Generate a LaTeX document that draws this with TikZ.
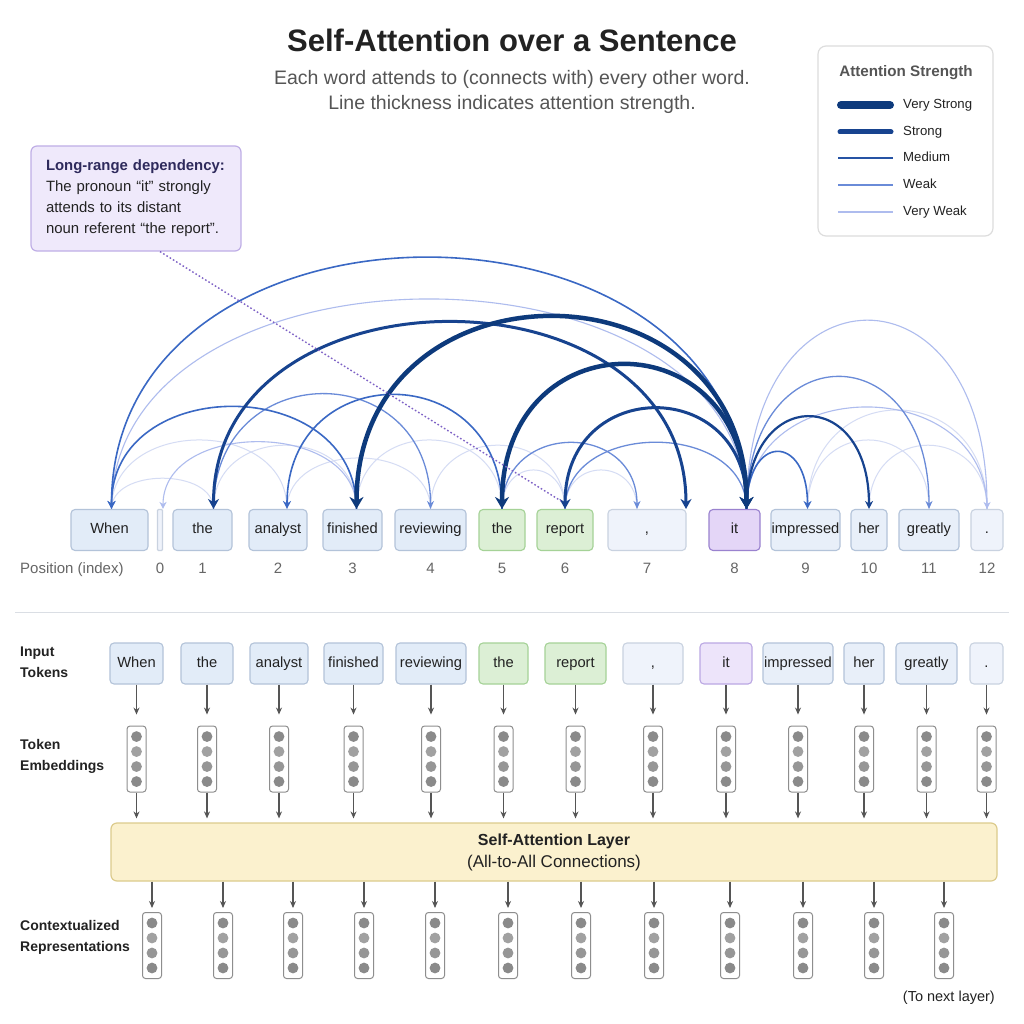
\documentclass[tikz,border=0pt]{standalone}
\usepackage{fontspec}
\setmainfont{Liberation Sans}
\usetikzlibrary{arrows.meta,positioning,calc}

\definecolor{txt}{HTML}{222222}
\definecolor{subtxt}{HTML}{555555}
\definecolor{idxtxt}{HTML}{666666}
\definecolor{blufill}{HTML}{E2ECF8}
\definecolor{bluline}{HTML}{B3C3D9}
\definecolor{litefill}{HTML}{E8EFF9}
\definecolor{palefill}{HTML}{EFF3FB}
\definecolor{paleline}{HTML}{C9D2E0}
\definecolor{grnfill}{HTML}{DCEFD5}
\definecolor{grnline}{HTML}{A5D297}
\definecolor{purfill}{HTML}{E4D6F7}
\definecolor{purline}{HTML}{9A82CF}
\definecolor{purfill2}{HTML}{EDE4FA}
\definecolor{purline2}{HTML}{BBA8E3}
\definecolor{notefill}{HTML}{EFE9FB}
\definecolor{noteline}{HTML}{BFAEE6}
\definecolor{notehead}{HTML}{2E2A5C}
\definecolor{dotline}{HTML}{7E62C6}
\definecolor{vsc}{HTML}{0D3A7C}
\definecolor{stc}{HTML}{17438F}
\definecolor{mdc}{HTML}{3A68C4}
\definecolor{wkc}{HTML}{6A8BD8}
\definecolor{vwc}{HTML}{AEBCEE}
\definecolor{ftc}{HTML}{D5DCF4}
\definecolor{layfill}{HTML}{FBF1CE}
\definecolor{layline}{HTML}{DCCB8C}
\definecolor{vecline}{HTML}{8E8E8E}
\definecolor{vecdot}{HTML}{8A8A8A}
\definecolor{flow}{HTML}{555555}
\definecolor{sepc}{HTML}{DADEE4}
\definecolor{legline}{HTML}{DDDDDD}

\begin{document}
\begin{tikzpicture}[x=1pt,y=-1pt,
    tok/.style={draw=bluline, fill=blufill, line width=1.1pt, rounded corners=4pt,
      minimum height=41pt, inner sep=0pt, text height=10pt, text depth=3pt,
      text=txt, font=\fontsize{14.7}{16}\selectfont},
    tokpale/.style={tok, draw=paleline, fill=palefill},
    toklite/.style={tok, fill=litefill},
    tokgreen/.style={tok, draw=grnline, fill=grnfill},
    tokit/.style={tok, draw=purline, fill=purfill},
    tokit2/.style={tok, draw=purline2, fill=purfill2},
    idx/.style={text=idxtxt, inner sep=0pt, text height=10pt, text depth=3pt,
      font=\fontsize{15}{16}\selectfont},
    rowlab/.style={anchor=west, align=left, inner sep=0pt, text=txt,
      font=\fontsize{14}{21}\selectfont\bfseries},
    vec/.style={draw=vecline, fill=white, line width=1pt, rounded corners=3pt,
      minimum width=19pt, minimum height=66pt, inner sep=0pt,
      path picture={
        \fill[vecdot] ([yshift=-10.5pt]path picture bounding box.north) circle (5.4pt);
        \fill[vecdot!80] ([yshift=-25.5pt]path picture bounding box.north) circle (5.4pt);
        \fill[vecdot!90] ([yshift=-40.5pt]path picture bounding box.north) circle (5.4pt);
        \fill[vecdot] ([yshift=-55.5pt]path picture bounding box.north) circle (5.4pt);
      }},
    flowarr/.style={draw=flow, line width=1.1pt, -{Stealth[length=7pt,width=6pt]}},
    faint/.style={draw=ftc, line width=1pt},
    vweak/.style={draw=vwc, line width=1.1pt, >={Stealth[length=7pt,width=7pt]}},
    weak/.style={draw=wkc, line width=1.3pt, >={Stealth[length=8pt,width=7pt]}},
    medium/.style={draw=mdc, line width=1.6pt, >={Stealth[length=8pt,width=8pt]}},
    strong/.style={draw=stc, line width=3pt, >={Stealth[length=10pt,width=11pt]}},
    vstrong/.style={draw=vsc, line width=4.5pt, >={Stealth[length=12pt,width=14pt]}},
    dotl/.style={draw=dotline, line width=1.4pt, dash pattern=on 1.6pt off 2.2pt},
    leglab/.style={anchor=west, inner sep=0pt, text=txt, text height=9.5pt, text depth=2.5pt,
      font=\fontsize{13.2}{15}\selectfont}
  ]

  \fill[white] (0,0) rectangle (1024,1024);
  \useasboundingbox (0,0) rectangle (1024,1024);

  % heading
  \node[font=\fontsize{31}{36}\selectfont\bfseries, text=txt] (title) at (512,40)
    {Self-Attention over a Sentence};
  \node[font=\fontsize{19.5}{25}\selectfont, text=subtxt, align=center] (subtitle) at (512,92)
    {Each word attends to (connects with) every other word.\\Line thickness indicates attention strength.};

  % legend
  \node[draw=legline, fill=white, line width=1.2pt, rounded corners=8pt,
    minimum width=175pt, minimum height=190pt] (legend) at (905.5,141) {};
  \node[font=\fontsize{15.2}{16}\selectfont\bfseries, text=subtxt] (legt) at (906,73) {Attention Strength};
  \draw[vsc, line width=8pt, line cap=round] (841,105) -- (890,105);
  \draw[stc, line width=5pt, line cap=round] (840,132) -- (891,132);
  \draw[mdc!55!vsc, line width=2.2pt] (838,158) -- (893,158);
  \draw[wkc, line width=1.8pt] (838,185) -- (893,185);
  \draw[vwc, line width=1.3pt] (838,212) -- (893,212);
  \node[leglab] (lvs) at (903,105) {Very Strong};
  \node[leglab] (lst) at (903,132) {Strong};
  \node[leglab] (lmd) at (903,158) {Medium};
  \node[leglab] (lwk) at (903,185) {Weak};
  \node[leglab] (lvw) at (903,212) {Very Weak};

  % note
  \node[draw=noteline, fill=notefill, line width=1.2pt, rounded corners=6pt,
    minimum width=210pt, minimum height=105pt, text width=180pt, inner xsep=15pt,
    align=left, text=txt, font=\fontsize{14.9}{21}\selectfont] (note) at (136,198.5)
    {{\bfseries\color{notehead}Long-range dependency:}\\The pronoun “it” strongly\\attends to its distant\\noun referent “the report”.};

  % sentence row
  \node[tok, minimum width=77pt] (A0) at (109.5,530) {When};
  \node[tokpale, minimum width=5pt, rounded corners=1pt] (A1) at (160,530) {};
  \node[tok, minimum width=59pt] (A2) at (202.5,530) {the};
  \node[tok, minimum width=58pt] (A3) at (278,530) {analyst};
  \node[tok, minimum width=59pt] (A4) at (352.5,530) {finished};
  \node[tok, minimum width=71pt] (A5) at (430.5,530) {reviewing};
  \node[tokgreen, minimum width=46pt] (A6) at (502,530) {the};
  \node[tokgreen, minimum width=56pt] (A7) at (565,530) {report};
  \node[tokpale, minimum width=78pt] (A8) at (647,530) {,};
  \node[tokit, minimum width=51pt] (A9) at (734.5,530) {it};
  \node[toklite, minimum width=69pt] (A10) at (805.5,530) {impressed};
  \node[toklite, minimum width=36pt] (A11) at (869,530) {her};
  \node[toklite, minimum width=60pt] (A12) at (929,530) {greatly};
  \node[tokpale, minimum width=32pt] (A13) at (987,530) {.};

  \node[idx, anchor=west] (poslab) at (20,570) {Position (index)};
  \node[idx, below=12pt of A1] (n0) {0};
  \node[idx, below=12pt of A2] (n1) {1};
  \node[idx, below=12pt of A3] (n2) {2};
  \node[idx, below=12pt of A4] (n3) {3};
  \node[idx, below=12pt of A5] (n4) {4};
  \node[idx, below=12pt of A6] (n5) {5};
  \node[idx, below=12pt of A7] (n6) {6};
  \node[idx, below=12pt of A8] (n7) {7};
  \node[idx, below=12pt of A9] (n8) {8};
  \node[idx, below=12pt of A10] (n9) {9};
  \node[idx, below=12pt of A11] (n10) {10};
  \node[idx, below=12pt of A12] (n11) {11};
  \node[idx, below=12pt of A13] (n12) {12};

  % arc ends
  \coordinate (a0) at ([xshift=2pt]A0.north);
  \coordinate (a1) at ([xshift=3pt]A1.north);
  \coordinate (a2) at ([xshift=11pt]A2.north);
  \coordinate (a3) at ([xshift=9pt]A3.north);
  \coordinate (a4) at ([xshift=4pt]A4.north);
  \coordinate (a5) at (A5.north);
  \coordinate (a6) at (A6.north);
  \coordinate (a7) at (A7.north);
  \coordinate (a8) at ([xshift=-10pt]A8.north);
  \coordinate (a8r) at ([xshift=39pt]A8.north);
  \coordinate (a9) at ([xshift=12pt]A9.north);
  \coordinate (a10) at ([xshift=2pt]A10.north);
  \coordinate (a11) at (A11.north);
  \coordinate (a12) at (A12.north);
  \coordinate (a13) at (A13.north);

  \draw[faint] (a0) .. controls +(0,-41) and +(0,-41) .. (a2);
  \draw[faint] (a0) .. controls +(0,-92) and +(0,-92) .. (a3);
  \draw[faint] (a2) .. controls +(0,-85) and +(0,-85) .. (a4);
  \draw[faint] (a3) .. controls +(0,-68) and +(0,-68) .. (a5);
  \draw[faint] (a4) .. controls +(0,-92) and +(0,-92) .. (a6);
  \draw[faint] (a5) .. controls +(0,-85) and +(0,-85) .. (a7);
  \draw[faint] (a6) .. controls +(0,-52) and +(0,-52) .. (a7);
  \draw[faint] (a7) .. controls +(0,-52) and +(0,-52) .. (a8);
  \draw[faint] (a10) .. controls +(0,-92) and +(0,-92) .. (a12);
  \draw[faint] (a11) .. controls +(0,-85) and +(0,-85) .. (a13);
  \draw[faint] (a10) .. controls +(0,-132) and +(0,-132) .. (a13);

  \draw[vweak] (a0) .. controls +(0,-280) and +(0,-280) .. (a9);
  \draw[vweak,<-] (a1) .. controls +(0,-89) and +(0,-89) .. (a4);
  \draw[vweak,->] (a9) .. controls +(0,-251) and +(0,-251) .. (a13);
  \draw[vweak] (a9) .. controls +(0,-136) and +(0,-136) .. (a13);

  \draw[weak,->] (a9) .. controls +(0,-176) and +(0,-176) .. (a12);
  \draw[weak,->] (a2) .. controls +(0,-153) and +(0,-153) .. (a5);
  \draw[weak,->] (a6) .. controls +(0,-88) and +(0,-88) .. (a8);
  \draw[weak] (a7) .. controls +(0,-89) and +(0,-89) .. (a9);

  \draw[medium,<-] (a0) .. controls +(0,-335) and +(0,-335) .. (a9);
  \draw[medium,<-] (a0) .. controls +(0,-136) and +(0,-136) .. (a4);
  \draw[medium,<-] (a3) .. controls +(0,-152) and +(0,-152) .. (a6);
  \draw[medium,->] (a9) .. controls +(0,-76) and +(0,-76) .. (a10);
  \draw[medium,->,draw=stc,line width=2.2pt] (a9) .. controls +(0,-123) and +(0,-123) .. (a11);

  \draw[strong,<->] (a2) .. controls +(0,-248) and +(0,-248) .. (a8r);
  \draw[strong,<->] (a7) .. controls +(0,-133) and +(0,-133) .. (a9);

  \draw[vstrong,<->] (a4) .. controls +(0,-255) and +(0,-255) .. (a9);
  \draw[vstrong,<->] (a6) .. controls +(0,-191) and +(0,-191) .. (a9);

  \draw[dotl] ([xshift=24pt]note.south) -- ([xshift=-4pt,yshift=8pt]a7);

  \draw[sepc, line width=1pt] (15,612) -- (1009,612);

  % lower part
  \node[rowlab] (lin) at (20,662) {Input\\Tokens};
  \node[rowlab] (lemb) at (20,756) {Token\\Embeddings};
  \node[rowlab] (lctx) at (20,937) {Contextualized\\Representations};

  \node[tok, minimum width=53pt] (B0) at (136.5,663.5) {When};
  \node[tok, minimum width=52pt] (B1) at (207,663.5) {the};
  \node[tok, minimum width=58pt] (B2) at (279,663.5) {analyst};
  \node[tok, minimum width=59pt] (B3) at (353.5,663.5) {finished};
  \node[tok, minimum width=70pt] (B4) at (431,663.5) {reviewing};
  \node[tokgreen, minimum width=49pt] (B5) at (503.5,663.5) {the};
  \node[tokgreen, minimum width=61pt] (B6) at (575.5,663.5) {report};
  \node[tokpale, minimum width=60pt] (B7) at (653,663.5) {,};
  \node[tokit2, minimum width=52pt] (B8) at (726,663.5) {it};
  \node[toklite, minimum width=70pt] (B9) at (798,663.5) {impressed};
  \node[toklite, minimum width=40pt] (B10) at (864,663.5) {her};
  \node[toklite, minimum width=61pt] (B11) at (926.5,663.5) {greatly};
  \node[tokpale, minimum width=33pt] (B12) at (986.5,663.5) {.};

  \node[vec, below=41pt of B0] (E0) {};
  \node[vec, below=41pt of B1] (E1) {};
  \node[vec, below=41pt of B2] (E2) {};
  \node[vec, below=41pt of B3] (E3) {};
  \node[vec, below=41pt of B4] (E4) {};
  \node[vec, below=41pt of B5] (E5) {};
  \node[vec, below=41pt of B6] (E6) {};
  \node[vec, below=41pt of B7] (E7) {};
  \node[vec, below=41pt of B8] (E8) {};
  \node[vec, below=41pt of B9] (E9) {};
  \node[vec, below=41pt of B10] (E10) {};
  \node[vec, below=41pt of B11] (E11) {};
  \node[vec, below=41pt of B12] (E12) {};

  \draw[flowarr, shorten >=11pt] (B0) -- (E0);
  \draw[flowarr, shorten >=11pt] (B1) -- (E1);
  \draw[flowarr, shorten >=11pt] (B2) -- (E2);
  \draw[flowarr, shorten >=11pt] (B3) -- (E3);
  \draw[flowarr, shorten >=11pt] (B4) -- (E4);
  \draw[flowarr, shorten >=11pt] (B5) -- (E5);
  \draw[flowarr, shorten >=11pt] (B6) -- (E6);
  \draw[flowarr, shorten >=11pt] (B7) -- (E7);
  \draw[flowarr, shorten >=11pt] (B8) -- (E8);
  \draw[flowarr, shorten >=11pt] (B9) -- (E9);
  \draw[flowarr, shorten >=11pt] (B10) -- (E10);
  \draw[flowarr, shorten >=11pt] (B11) -- (E11);
  \draw[flowarr, shorten >=11pt] (B12) -- (E12);

  \node[draw=layline, fill=layfill, line width=1.2pt, rounded corners=6pt,
    minimum width=886pt, minimum height=58pt, align=center, text=txt,
    font=\fontsize{16}{22}\selectfont] (L) at (554,852)
    {\textbf{Self-Attention Layer}\\{\fontsize{17}{22}\selectfont(All-to-All Connections)}};

  \draw[flowarr, shorten >=4pt] (E0) -- (E0 |- L.north);
  \draw[flowarr, shorten >=4pt] (E1) -- (E1 |- L.north);
  \draw[flowarr, shorten >=4pt] (E2) -- (E2 |- L.north);
  \draw[flowarr, shorten >=4pt] (E3) -- (E3 |- L.north);
  \draw[flowarr, shorten >=4pt] (E4) -- (E4 |- L.north);
  \draw[flowarr, shorten >=4pt] (E5) -- (E5 |- L.north);
  \draw[flowarr, shorten >=4pt] (E6) -- (E6 |- L.north);
  \draw[flowarr, shorten >=4pt] (E7) -- (E7 |- L.north);
  \draw[flowarr, shorten >=4pt] (E8) -- (E8 |- L.north);
  \draw[flowarr, shorten >=4pt] (E9) -- (E9 |- L.north);
  \draw[flowarr, shorten >=4pt] (E10) -- (E10 |- L.north);
  \draw[flowarr, shorten >=4pt] (E11) -- (E11 |- L.north);
  \draw[flowarr, shorten >=4pt] (E12) -- (E12 |- L.north);

  \node[vec] (C0) at (152,945.5) {};
  \node[vec] (C1) at (223,945.5) {};
  \node[vec] (C2) at (293,945.5) {};
  \node[vec] (C3) at (364,945.5) {};
  \node[vec] (C4) at (435,945.5) {};
  \node[vec] (C5) at (508,945.5) {};
  \node[vec] (C6) at (581,945.5) {};
  \node[vec] (C7) at (654,945.5) {};
  \node[vec] (C8) at (730,945.5) {};
  \node[vec] (C9) at (803,945.5) {};
  \node[vec] (C10) at (874,945.5) {};
  \node[vec] (C11) at (944,945.5) {};

  \draw[flowarr, shorten >=4pt] (C0 |- L.south) -- (C0);
  \draw[flowarr, shorten >=4pt] (C1 |- L.south) -- (C1);
  \draw[flowarr, shorten >=4pt] (C2 |- L.south) -- (C2);
  \draw[flowarr, shorten >=4pt] (C3 |- L.south) -- (C3);
  \draw[flowarr, shorten >=4pt] (C4 |- L.south) -- (C4);
  \draw[flowarr, shorten >=4pt] (C5 |- L.south) -- (C5);
  \draw[flowarr, shorten >=4pt] (C6 |- L.south) -- (C6);
  \draw[flowarr, shorten >=4pt] (C7 |- L.south) -- (C7);
  \draw[flowarr, shorten >=4pt] (C8 |- L.south) -- (C8);
  \draw[flowarr, shorten >=4pt] (C9 |- L.south) -- (C9);
  \draw[flowarr, shorten >=4pt] (C10 |- L.south) -- (C10);
  \draw[flowarr, shorten >=4pt] (C11 |- L.south) -- (C11);

  \node[anchor=east, inner sep=0pt, text=txt, font=\fontsize{14.5}{16}\selectfont] (nextlab) at (995,998) {(To next layer)};

\end{tikzpicture}
\end{document}
